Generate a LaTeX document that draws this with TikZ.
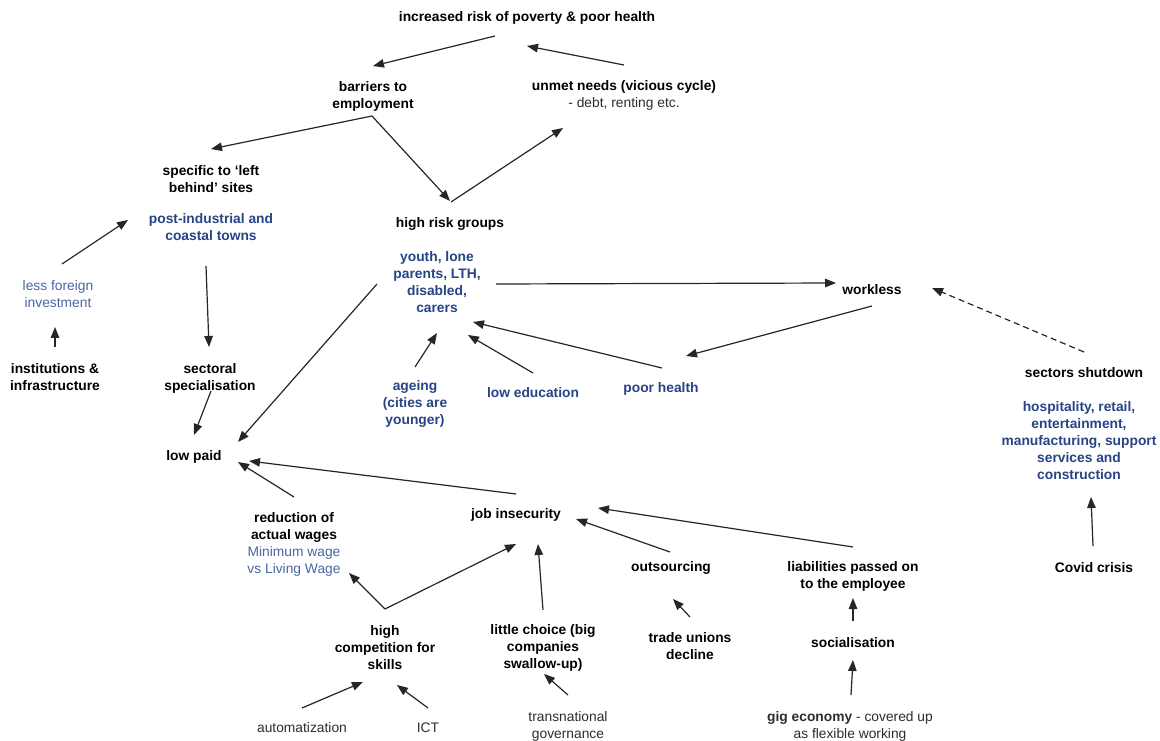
\documentclass[tikz,border=0pt]{standalone}
\usepackage{fontspec}
\setmainfont{Liberation Sans}
\usetikzlibrary{arrows.meta}
\definecolor{groupblue}{RGB}{38,68,134}
\definecolor{noteblue}{RGB}{74,102,162}
\definecolor{inkgray}{RGB}{45,45,45}

\begin{document}
\begin{tikzpicture}[
  x=1pt, y=-1pt,
  every node/.style={inner sep=0pt, align=center, font=\fontsize{13.8}{17}\selectfont},
  head/.style={font=\fontsize{13.8}{17}\selectfont\bfseries},
  grp/.style={head, text=groupblue},
  note/.style={text=noteblue},
  plain/.style={text=inkgray},
  arr/.style={-{Triangle[length=11pt,width=8.5pt]}, line width=1.2pt, draw=black!85},
  dasharr/.style={arr, dash pattern=on 6pt off 4pt}
]
\path[fill=white] (0,0) rectangle (1160,740);

% top of the cycle
\node[head] (risk) at (527,18) {increased risk of poverty \& poor health};
\node[head] (barriers) at (373,96) {barriers to\\employment};
\node[head] (unmet) at (624,95) {unmet needs (vicious cycle)\\\mdseries\color{inkgray}- debt, renting etc.};

% left behind sites
\node[head] (specific) at (211,179) {specific to ‘left\\behind’ sites};
\node[grp] (towns) at (211,227) {post-industrial and\\coastal towns};
\node[note] (foreign) at (58,294) {less foreign\\investment};
\node[head] (institutions) at (55,377) {institutions \&\\infrastructure};
\node[head] (sectoral) at (210,378) {sectoral\\specialisation};
\node[head] (lowpaid) at (194,457) {low paid};

% high risk groups
\node[head] (highrisk) at (450,224) {high risk groups};
\node[grp] (groups) at (437,282) {youth, lone\\parents, LTH,\\disabled,\\carers};
\node[grp] (ageing) at (415,404) {ageing\\(cities are\\younger)};
\node[grp] (education) at (533,393) {low education};
\node[grp] (poorhealth) at (661,389) {poor health};
\node[head] (workless) at (872,290) {workless};

% covid
\node[head] (shutdown) at (1084,373) {sectors shutdown};
\node[grp] (sectors) at (1079,441) {hospitality, retail,\\entertainment,\\manufacturing, support\\services and\\construction};
\node[head] (covid) at (1094,568) {Covid crisis};

% job insecurity
\node[head] (wages) at (294,544) {reduction of\\actual wages\\\mdseries\color{noteblue}Minimum wage\\\mdseries\color{noteblue}vs Living Wage};
\node[head] (insecurity) at (516,515) {job insecurity};
\node[head] (competition) at (385,648) {high\\competition for\\skills};
\node[head] (choice) at (543,648) {little choice (big\\companies\\swallow-up)};
\node[plain] (automation) at (302,728) {automatization};
\node[plain] (ict) at (428,728) {ICT};
\node[plain] (governance) at (568,726) {transnational\\governance};
\node[head] (outsourcing) at (671,568) {outsourcing};
\node[head] (unions) at (690,646) {trade unions\\decline};
\node[head] (liabilities) at (853,576) {liabilities passed on\\to the employee};
\node[head] (socialisation) at (853,643) {socialisation};
\node[plain] (gig) at (850,726) {\textbf{gig economy} - covered up\\as flexible working};

\draw[arr] ([shift={(-32,18)}]risk.center) -- ([shift={(0,-30)}]barriers.center);
\draw[arr] ([shift={(0,-30)}]unmet.center) -- ([shift={(0,28)}]risk.center);
\draw[arr] ([shift={(-1,20)}]barriers.center) -- ([shift={(0,-30)}]specific.center);
\draw[arr] ([shift={(-1,20)}]barriers.center) -- ([shift={(0,-23)}]highrisk.center);
\draw[arr] ([shift={(1,-22)}]highrisk.center) -- ([shift={(-61,33)}]unmet.center);
\draw[arr] ([shift={(4,-30)}]foreign.center) -- ([shift={(-83,-7)}]towns.center);
\draw[arr] ([shift={(0,-30)}]institutions.center) -- ([shift={(-3,33)}]foreign.center);
\draw[arr] ([shift={(-5,39)}]towns.center) -- ([shift={(-1,-31)}]sectoral.center);
\draw[arr] ([shift={(1,13)}]sectoral.center) -- ([shift={(0,-22)}]lowpaid.center);
\draw[arr] ([shift={(-60,2)}]groups.center) -- ([shift={(44,-15)}]lowpaid.center);
\draw[arr] ([shift={(0,-21)}]insecurity.center) -- ([shift={(55,4)}]lowpaid.center);
\draw[arr] ([shift={(0,-47)}]wages.center) -- ([shift={(44,5)}]lowpaid.center);
\draw[arr] ([shift={(59,2)}]groups.center) -- ([shift={(-36,-7)}]workless.center);
\draw[arr] ([shift={(0,16)}]workless.center) -- ([shift={(25,-33)}]poorhealth.center);
\draw[arr] ([shift={(1,-21)}]poorhealth.center) -- ([shift={(36,40)}]groups.center);
\draw[arr] ([shift={(0,-20)}]education.center) -- ([shift={(31,53)}]groups.center);
\draw[arr] ([shift={(0,-37)}]ageing.center) -- ([shift={(0,51)}]groups.center);
\draw[dasharr] ([shift={(0,-21)}]shutdown.center) -- ([shift={(60,-2)}]workless.center);
\draw[arr] ([shift={(-1,-22)}]covid.center) -- ([shift={(12,56)}]sectors.center);
\draw[arr] ([shift={(0,-39)}]competition.center) -- ([shift={(55,29)}]wages.center);
\draw[arr] ([shift={(0,-39)}]competition.center) -- ([shift={(0,29)}]insecurity.center);
\draw[arr] ([shift={(0,-38)}]choice.center) -- ([shift={(22,29)}]insecurity.center);
\draw[arr] ([shift={(0,-20)}]automation.center) -- ([shift={(-22,34)}]competition.center);
\draw[arr] ([shift={(0,-20)}]ict.center) -- ([shift={(12,37)}]competition.center);
\draw[arr] ([shift={(0,-31)}]governance.center) -- ([shift={(1,26)}]choice.center);
\draw[arr] ([shift={(-1,-16)}]outsourcing.center) -- ([shift={(60,4)}]insecurity.center);
\draw[arr] ([shift={(0,-29)}]liabilities.center) -- ([shift={(82,-7)}]insecurity.center);
\draw[arr] ([shift={(0,-29)}]unions.center) -- ([shift={(2,31)}]outsourcing.center);
\draw[arr] ([shift={(0,-22)}]socialisation.center) -- ([shift={(0,22)}]liabilities.center);
\draw[arr] ([shift={(1,-31)}]gig.center) -- ([shift={(0,17)}]socialisation.center);

\useasboundingbox (0,0) rectangle (1160,740);
\end{tikzpicture}
\end{document}
